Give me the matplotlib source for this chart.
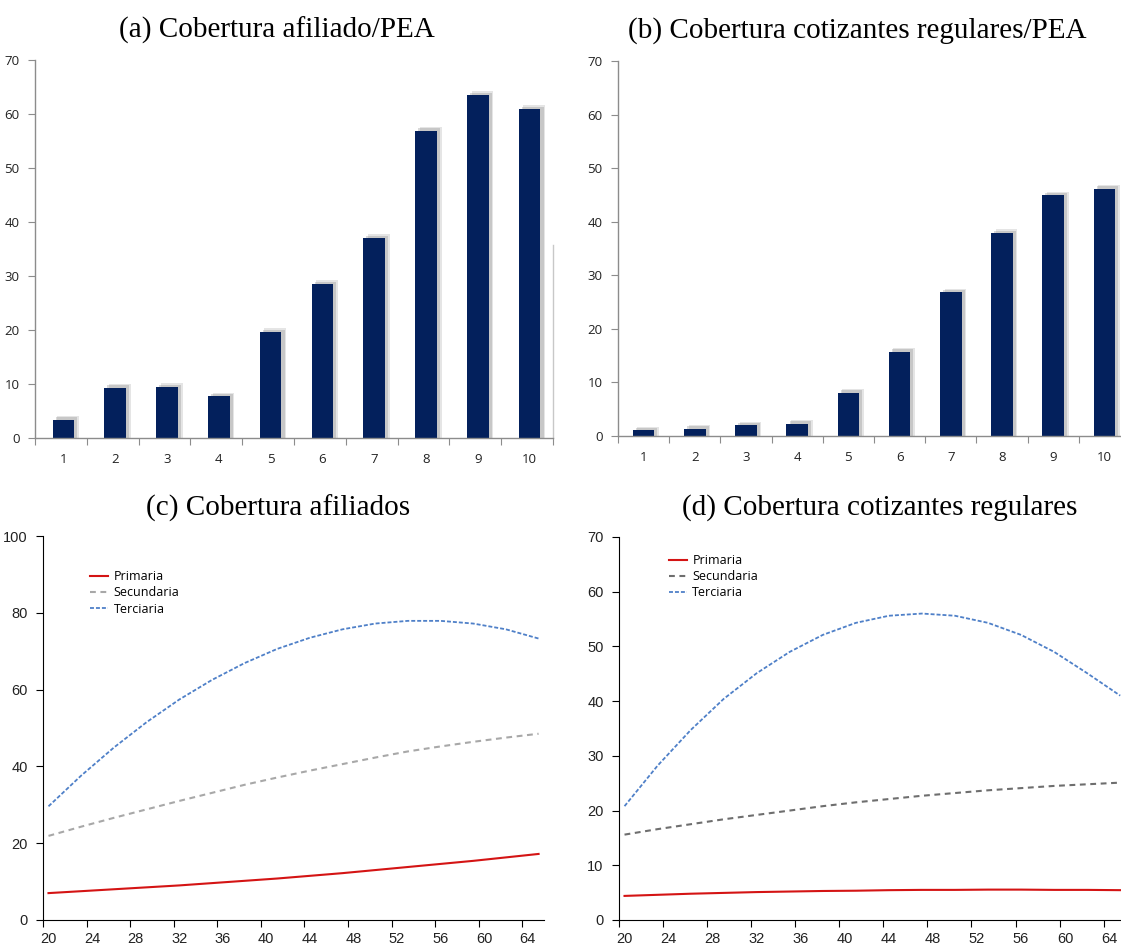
import matplotlib.pyplot as plt
from matplotlib.ticker import FixedLocator, NullFormatter

# deciles and coverage (%)
deciles = [1, 2, 3, 4, 5, 6, 7, 8, 9, 10]
afiliado_pea = [3.4, 9.3, 9.4, 7.7, 19.6, 28.5, 37.0, 56.9, 63.5, 60.9]
cotizantes_pea = [1.05, 1.4, 2.0, 2.3, 8.1, 15.7, 26.8, 37.9, 44.9, 46.2]

# age profiles
edades = [20, 23, 26, 29, 32, 35, 38, 41, 44, 47, 50, 53, 56, 59, 62, 65]
afil_primaria = [7.0, 7.5, 8.0, 8.5, 9.0, 9.6, 10.2, 10.8, 11.5, 12.2, 13.0, 13.8, 14.6, 15.4, 16.3, 17.2]
afil_secundaria = [21.9, 24.3, 26.6, 28.8, 31.0, 33.1, 35.2, 37.1, 38.9, 40.6, 42.3, 43.9, 45.2, 46.4, 47.5, 48.5]
afil_terciaria = [29.6, 37.6, 44.9, 51.5, 57.4, 62.5, 66.9, 70.6, 73.5, 75.7, 77.2, 77.9, 77.9, 77.2, 75.7, 73.3]
cot_primaria = [4.4, 4.6, 4.8, 4.95, 5.1, 5.2, 5.3, 5.35, 5.45, 5.5, 5.5, 5.55, 5.55, 5.5, 5.5, 5.45]
cot_secundaria = [15.6, 16.6, 17.5, 18.4, 19.2, 20.0, 20.8, 21.5, 22.1, 22.7, 23.2, 23.7, 24.1, 24.5, 24.8, 25.1]
cot_terciaria = [20.8, 28.2, 34.7, 40.4, 45.1, 49.0, 52.1, 54.3, 55.6, 56.0, 55.6, 54.3, 52.1, 49.0, 45.1, 41.0]

age_labels = list(range(20, 65, 4))

fig = plt.figure(figsize=(11.21, 9.46), dpi=100)

bar_font = 'Open Sans'
line_font = 'Liberation Sans'
title_font = 'Liberation Serif'
navy = '#03205c'


def bar_panel(rect, values, shift=0.0):
    ax = fig.add_axes(rect)
    x = [i + shift for i in range(len(values))]
    # soft shadow like the excel chart
    for off, dh, a in [(0.09, 0.7, 0.22), (0.06, 0.45, 0.32)]:
        ax.bar([i + off for i in x], [v + dh for v in values], width=0.42,
               color='#8a8a8a', alpha=a, zorder=1, linewidth=0)
    ax.bar(x, values, width=0.42, color=navy, zorder=2, linewidth=0)
    ax.set_xlim(-0.5, len(values) - 0.5)
    ax.set_ylim(0, 70)
    ax.set_yticks(range(0, 71, 10))
    ax.xaxis.set_major_locator(FixedLocator([i - 0.5 for i in range(len(values) + 1)]))
    ax.xaxis.set_major_formatter(NullFormatter())
    ax.xaxis.set_minor_locator(FixedLocator(x))
    ax.set_xticklabels([str(d) for d in deciles], minor=True)
    ax.tick_params(axis='x', which='major', length=5, color='#8c8c8c', direction='out')
    ax.tick_params(axis='x', which='minor', length=0, pad=11)
    ax.tick_params(axis='y', length=5, color='#8c8c8c', pad=6)
    for s in ['top', 'right']:
        ax.spines[s].set_visible(False)
    for s in ['left', 'bottom']:
        ax.spines[s].set_color('#8c8c8c')
        ax.spines[s].set_linewidth(1.0)
    for lab in ax.get_xticklabels(minor=True) + ax.get_yticklabels():
        lab.set_fontfamily(bar_font)
        lab.set_fontsize(9.5)
        lab.set_color('#222222')
    return ax


def line_panel(rect, ymax, prim, sec, ter, sec_color):
    ax = fig.add_axes(rect)
    ax.plot(edades, prim, color='#d41414', lw=1.5, label='Primaria')
    ax.plot(edades, sec, color=sec_color, lw=1.5, dashes=(2.8, 2.2), label='Secundaria')
    ax.plot(edades, ter, color='#4f80c8', lw=1.3, dashes=(2.2, 1.1), label='Terciaria')
    ax.set_xlim(19.5, 65.5)
    ax.set_ylim(0, ymax)
    ax.set_yticks(range(0, ymax + 1, 10 if ymax == 70 else 20))
    ax.xaxis.set_major_locator(FixedLocator([19.5 + 4 * k for k in range(12)]))
    ax.xaxis.set_major_formatter(NullFormatter())
    ax.xaxis.set_minor_locator(FixedLocator(age_labels))
    ax.set_xticklabels([str(a) for a in age_labels], minor=True)
    ax.tick_params(axis='x', which='major', length=5, color='black', direction='out')
    ax.tick_params(axis='x', which='minor', length=0, pad=9)
    ax.tick_params(axis='y', length=5, color='black', pad=6)
    for s in ['top', 'right']:
        ax.spines[s].set_visible(False)
    for lab in ax.get_xticklabels(minor=True) + ax.get_yticklabels():
        lab.set_fontfamily(line_font)
        lab.set_fontsize(10.5)
        lab.set_color('#222222')
    return ax


ax_a = bar_panel([0.0312, 0.537, 0.462, 0.3996], afiliado_pea, shift=0.05)
# thin leftover line at the right of panel (a)
ax_a.plot([1, 1], [0, 0.51], transform=ax_a.transAxes, color='#c8c8c8', lw=1.0, clip_on=False)
ax_b = bar_panel([0.5513, 0.5391, 0.4567, 0.3964], cotizantes_pea)

ax_c = line_panel([0.0384, 0.0275, 0.4469, 0.4059], 100,
                  afil_primaria, afil_secundaria, afil_terciaria, '#a8a8a8')
ax_d = line_panel([0.5522, 0.0275, 0.452, 0.4049], 70,
                  cot_primaria, cot_secundaria, cot_terciaria, '#6e6e6e')

for ax, loc in [(ax_c, (0.072, 0.94)), (ax_d, (0.077, 0.985))]:
    ax.legend(loc='upper left', bbox_to_anchor=loc, frameon=False,
              prop={'family': bar_font, 'size': 9}, handlelength=1.4,
              handletextpad=0.45, labelspacing=0.25)

fig.text(0.247, 0.968, '(a) Cobertura afiliado/PEA', ha='center', va='center',
         fontfamily=title_font, fontsize=21)
fig.text(0.765, 0.968, '(b) Cobertura cotizantes regulares/PEA', ha='center', va='center',
         fontfamily=title_font, fontsize=21)
fig.text(0.248, 0.463, '(c) Cobertura afiliados', ha='center', va='center',
         fontfamily=title_font, fontsize=21)
fig.text(0.785, 0.463, '(d) Cobertura cotizantes regulares', ha='center', va='center',
         fontfamily=title_font, fontsize=21)

fig.savefig('out.png', dpi=100)
